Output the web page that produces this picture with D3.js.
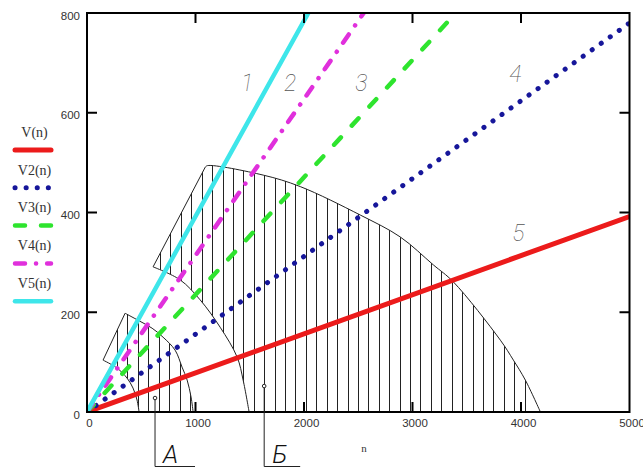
<!DOCTYPE html>
<html>
<head>
<meta charset="utf-8">
<script src="https://cdn.jsdelivr.net/npm/d3@7/dist/d3.min.js"></script>
<style>
body { margin: 0; background: #fff; }
svg { display: block; }
</style>
</head>
<body>
<div id="chart"></div>
<script>
var width = 643, height = 468;
var plotLeft = 87, plotTop = 13, plotRight = 629.5, plotBottom = 412;

// axes
var nTicks = [0, 1000, 2000, 3000, 4000, 5000];
var vTicks = [0, 200, 400, 600, 800];
var nDomain = [0, 5000];
var vDomain = [0, 800];

// the five speed lines, V = f(n), read at their ends
var seriesNames = ["V(n)", "V2(n)", "V3(n)", "V4(n)", "V5(n)"];
var seriesN = [[0, 5000], [0, 5000], [0, 3400], [0, 2550], [0, 2040]];
var seriesV = [[0, 392], [0, 780], [0, 800], [0, 800], [0, 800]];
var lineLabels = ["5", "4", "3", "2", "1"];
var lineLabelN = [3976, 3948, 2528, 1873, 1476];
var lineLabelV = [359, 678, 660, 660, 660];

// hatched zone A (small)
var aEdgeN = [148, 351];
var aEdgeV = [104, 198];
var aOuterN = [351, 470, 600, 701, 812, 876, 923, 959, 978];
var aOuterV = [198, 184, 168, 150, 124, 90, 64, 30, 0];
var aInnerN = [148, 277, 369, 424, 461, 480];
var aInnerV = [104, 88, 68, 48, 24, 0];
var aHatch = [274, 97, 978];   // first n, step, last n
var aMarkN = 627, aMarkV = 28;

// hatched zone B (large)
var bEdgeN = [609, 1090];
var bEdgeV = [291, 491];
var bOuterN = [1090, 1110, 1624, 1965, 2518, 2887, 3192, 3376, 3810, 3930, 4040, 4179];
var bOuterV = [491, 494, 475, 452, 395, 351, 295, 261, 144, 104, 64, 0];
var bInnerN = [609, 858, 1042, 1227, 1384, 1439, 1494];
var bInnerV = [291, 265, 225, 170, 110, 64, 0];
var bHatch = [673, 96, 4100];
var bMarkN = 1633, bMarkV = 52;

// styles
var seriesColors = ["#ec1b1b", "#16169a", "#2ee42e", "#e030dc", "#3ee6ea"];
var seriesDash = [null, "0.1 11", "10 16", "10 11 0.1 11", null];
var seriesWidth = [5, 5, 4.5, 4.5, 4.5];
var handFont = "Roboto";

var x = d3.scaleLinear().domain(nDomain).range([plotLeft, plotRight]);
var y = d3.scaleLinear().domain(vDomain).range([plotBottom, plotTop]);

var svg = d3.select("#chart").append("svg")
    .attr("width", width).attr("height", height);

var defs = svg.append("defs");
defs.append("clipPath").attr("id", "plotClip")
    .append("rect")
    .attr("x", plotLeft).attr("y", plotTop)
    .attr("width", plotRight - plotLeft).attr("height", plotBottom - plotTop);

function zip(ns, vs) {
    return ns.map(function(n, i) { return [n, vs[i]]; });
}

var straight = d3.line().x(function(d) { return x(d[0]); }).y(function(d) { return y(d[1]); });
var smooth = d3.line().x(function(d) { return x(d[0]); }).y(function(d) { return y(d[1]); })
    .curve(d3.curveCatmullRom.alpha(0.5));

function sectorPath(edgeN, edgeV, outerN, outerV, innerN, innerV) {
    var outer = zip(outerN, outerV);
    var inner = zip(innerN, innerV).reverse();
    return straight(zip(edgeN, edgeV)) +
        smooth(outer).replace(/^M/, "L") +
        straight([outer[outer.length - 1], inner[0]]).replace(/^M/, "L") +
        smooth(inner).replace(/^M/, "L") + "Z";
}

function drawSector(id, path, hatch) {
    defs.append("clipPath").attr("id", id).append("path").attr("d", path);
    var ns = d3.range(hatch[0], hatch[2] + 1, hatch[1]);
    svg.append("g").attr("clip-path", "url(#" + id + ")")
        .selectAll("line").data(ns).enter().append("line")
        .attr("x1", function(d) { return Math.round(x(d)) + 0.5; })
        .attr("x2", function(d) { return Math.round(x(d)) + 0.5; })
        .attr("y1", y(0)).attr("y2", y(600))
        .attr("stroke", "#222").attr("stroke-width", 1);
    svg.append("path").attr("d", path)
        .attr("fill", "none").attr("stroke", "#222").attr("stroke-width", 1);
}

drawSector("zoneA", sectorPath(aEdgeN, aEdgeV, aOuterN, aOuterV, aInnerN, aInnerV), aHatch);
drawSector("zoneB", sectorPath(bEdgeN, bEdgeV, bOuterN, bOuterV, bInnerN, bInnerV), bHatch);

// speed lines
var lines = svg.append("g").attr("clip-path", "url(#plotClip)");
seriesNames.forEach(function(name, i) {
    lines.append("path")
        .attr("d", straight(zip(seriesN[i], seriesV[i])))
        .attr("fill", "none")
        .attr("stroke", seriesColors[i])
        .attr("stroke-width", seriesWidth[i])
        .attr("stroke-linecap", "round")
        .attr("stroke-dasharray", seriesDash[i]);
});

// line numbers 1..5
svg.append("g").selectAll("text").data(lineLabels).enter().append("text")
    .attr("x", function(d, i) { return x(lineLabelN[i]); })
    .attr("y", function(d, i) { return y(lineLabelV[i]) + 8; })
    .attr("text-anchor", "middle")
    .attr("font-family", handFont)
    .attr("font-weight", 100)
    .attr("font-style", "italic")
    .attr("font-size", 23)
    .attr("fill", "#555")
    .text(function(d) { return d; });

// frame
svg.append("rect")
    .attr("x", plotLeft).attr("y", plotTop)
    .attr("width", plotRight - plotLeft).attr("height", plotBottom - plotTop)
    .attr("fill", "none").attr("stroke", "#000").attr("stroke-width", 2);

var inner = nTicks.slice(1, -1);
var innerV = vTicks.slice(1, -1);
var ticks = svg.append("g").attr("stroke", "#000").attr("stroke-width", 2);
inner.forEach(function(n) {
    ticks.append("line").attr("x1", x(n)).attr("x2", x(n)).attr("y1", plotBottom).attr("y2", plotBottom - 10);
    ticks.append("line").attr("x1", x(n)).attr("x2", x(n)).attr("y1", plotTop).attr("y2", plotTop + 10);
});
innerV.forEach(function(v) {
    ticks.append("line").attr("x1", plotLeft).attr("x2", plotLeft + 10).attr("y1", y(v)).attr("y2", y(v));
    ticks.append("line").attr("x1", plotRight).attr("x2", plotRight - 10).attr("y1", y(v)).attr("y2", y(v));
});

svg.append("g").selectAll("text").data(nTicks).enter().append("text")
    .attr("x", function(d) { return x(d) + 2.5; })
    .attr("y", plotBottom + 15)
    .attr("text-anchor", "middle")
    .attr("font-family", "Liberation Sans")
    .attr("font-size", 11.5)
    .attr("fill", "#333")
    .text(function(d) { return d; });

svg.append("g").selectAll("text").data(vTicks).enter().append("text")
    .attr("x", plotLeft - 7)
    .attr("y", function(d) { return y(d) + 6.5; })
    .attr("text-anchor", "end")
    .attr("font-family", "Liberation Sans")
    .attr("font-size", 11.5)
    .attr("fill", "#333")
    .text(function(d) { return d; });

svg.append("text")
    .attr("x", 364).attr("y", 452)
    .attr("text-anchor", "middle")
    .attr("font-family", "Liberation Serif")
    .attr("font-size", 11)
    .attr("fill", "#333")
    .text("n");

// legend
var legend = svg.append("g");
seriesNames.forEach(function(name, i) {
    legend.append("text")
        .attr("x", 34.5).attr("y", 137 + i * 37.7)
        .attr("text-anchor", "middle")
        .attr("font-family", "Liberation Serif")
        .attr("font-size", 14)
        .attr("fill", "#333")
        .text(name);
    legend.append("line")
        .attr("x1", 15).attr("x2", 51)
        .attr("y1", 150 + i * 37.8).attr("y2", 150 + i * 37.8)
        .attr("stroke", seriesColors[i])
        .attr("stroke-width", seriesWidth[i])
        .attr("stroke-linecap", "round")
        .attr("stroke-dasharray", seriesDash[i]);
});

// leaders for zones A and B
function leader(n, v, letter, len) {
    var px = x(n), py = y(v);
    var g = svg.append("g");
    g.append("path")
        .attr("d", "M" + px + "," + py + "V466.5H" + (px + len))
        .attr("fill", "none").attr("stroke", "#222").attr("stroke-width", 1);
    g.append("circle").attr("cx", px).attr("cy", py).attr("r", 1.8)
        .attr("fill", "#fff").attr("stroke", "#222").attr("stroke-width", 1);
    g.append("text")
        .attr("x", px + 8).attr("y", 463)
        .attr("font-family", handFont)
        .attr("font-weight", 300)
        .attr("font-style", "italic")
        .attr("font-size", 25)
        .attr("fill", "#111")
        .text(letter);
}
leader(aMarkN, aMarkV, "А", 40);
leader(bMarkN, bMarkV, "Б", 36);
</script>
</body>
</html>
